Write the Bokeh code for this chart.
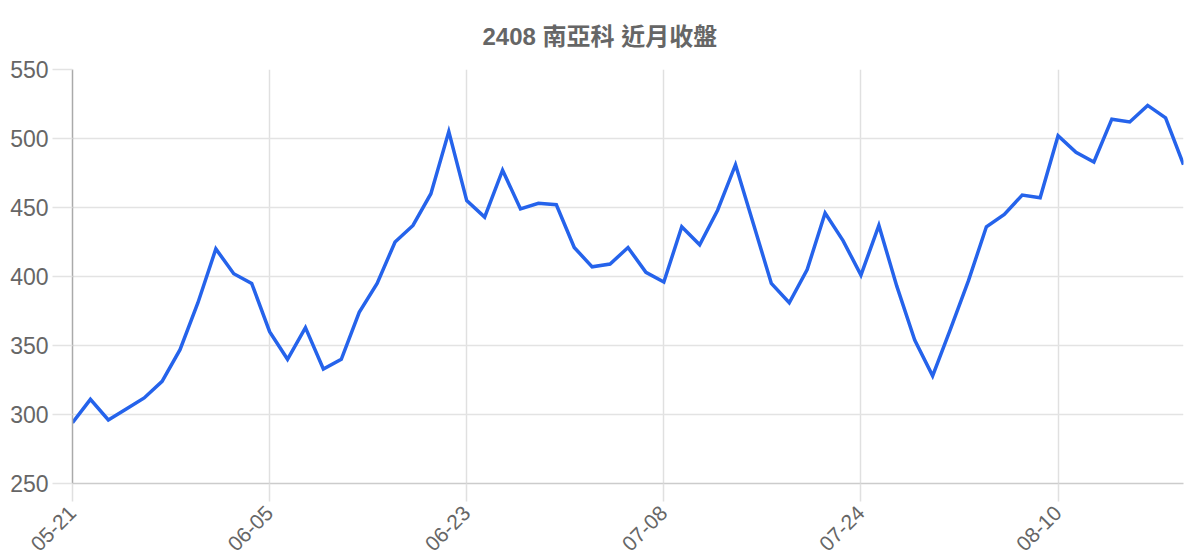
from bokeh.plotting import figure
from bokeh.models import FixedTicker, Range1d, ColumnDataSource
from bokeh.embed import file_html
from bokeh.resources import INLINE

title_text = "2408 南亞科 近月收盤"

dates = [
    "05-21", "05-22", "05-23", "05-24", "05-27", "05-28", "05-29", "05-30", "05-31", "06-03",
    "06-04", "06-05", "06-06", "06-07", "06-11", "06-12", "06-13", "06-14", "06-17", "06-18",
    "06-19", "06-20", "06-23", "06-24", "06-25", "06-26", "06-27", "06-30", "07-01", "07-02",
    "07-03", "07-04", "07-07", "07-08", "07-09", "07-10", "07-11", "07-14", "07-15", "07-16",
    "07-17", "07-18", "07-21", "07-22", "07-24", "07-25", "07-28", "07-29", "07-30", "07-31",
    "08-01", "08-04", "08-05", "08-06", "08-07", "08-10", "08-11", "08-12", "08-13", "08-14",
    "08-15", "08-18", "08-19",
]

closes = [
    294, 311, 296, 304, 312, 324, 347, 381, 420, 402,
    395, 360, 340, 363, 333, 340, 374, 395, 425, 437,
    460, 505, 455, 443, 477, 449, 453, 452, 421, 407,
    409, 421, 403, 396, 436, 423, 448, 481, 438, 395,
    381, 405, 446, 426, 401, 437, 393, 354, 328, 362,
    397, 436, 445, 459, 457, 502, 490, 483, 514, 512,
    524, 515, 481,
]

label_every = 11
y_ticks = [250, 300, 350, 400, 450, 500, 550]

idx = list(range(len(dates)))
tick_idx = idx[::label_every]

source = ColumnDataSource(data=dict(x=idx, y=closes, d=dates))

p = figure(
    width=1190, height=560,
    output_backend="svg", toolbar_location=None,
    x_range=Range1d(0, len(dates) - 1),
    y_range=Range1d(y_ticks[0], y_ticks[-1]),
    min_border_left=72, min_border_right=7,
    min_border_top=69, min_border_bottom=76,
    title=title_text,
)
p.outline_line_color = None
p.background_fill_color = "white"
p.border_fill_color = "white"

p.title.align = "left"
p.title.offset = 410
p.title.text_font = "'Liberation Sans', 'Noto Sans CJK TC', sans-serif"
p.title.text_font_size = "24px"
p.title.text_font_style = "bold"
p.title.text_color = "#666666"
p.title.standoff = 39

p.line("x", "y", source=source, line_color="#2563EB", line_width=3.5, line_join="miter")

# y axis
p.yaxis.ticker = FixedTicker(ticks=y_ticks)
p.yaxis.axis_line_color = "#aaaaaa"
p.yaxis.axis_line_width = 1.5
p.yaxis.major_tick_line_color = "#e3e3e3"
p.yaxis.major_tick_line_width = 1.5
p.yaxis.major_tick_out = 20
p.yaxis.major_tick_in = 0
p.yaxis.minor_tick_line_color = None
p.yaxis.major_label_standoff = 4
p.yaxis.major_label_text_font = "Liberation Sans"
p.yaxis.major_label_text_font_size = "23px"
p.yaxis.major_label_text_color = "#666666"

# x axis
p.xaxis.ticker = FixedTicker(ticks=tick_idx)
p.xaxis.major_label_overrides = {i: dates[i] for i in tick_idx}
p.xaxis.axis_line_color = "#cccccc"
p.xaxis.axis_line_width = 1.5
p.xaxis.major_tick_line_color = "#e0e0e0"
p.xaxis.major_tick_line_width = 1.5
p.xaxis.major_tick_out = 18
p.xaxis.major_tick_in = 0
p.xaxis.minor_tick_line_color = None
p.xaxis.major_label_orientation = 0.785398
p.xaxis.major_label_standoff = 8
p.xaxis.major_label_text_font = "Liberation Sans"
p.xaxis.major_label_text_font_size = "21px"
p.xaxis.major_label_text_color = "#666666"

p.xgrid.ticker = FixedTicker(ticks=tick_idx)
p.xgrid.grid_line_color = "#e0e0e0"
p.xgrid.grid_line_width = 1.5
p.ygrid.ticker = FixedTicker(ticks=y_ticks)
p.ygrid.grid_line_color = "#e3e3e3"
p.ygrid.grid_line_width = 1.5

open("out.html", "w").write(file_html(p, INLINE))
